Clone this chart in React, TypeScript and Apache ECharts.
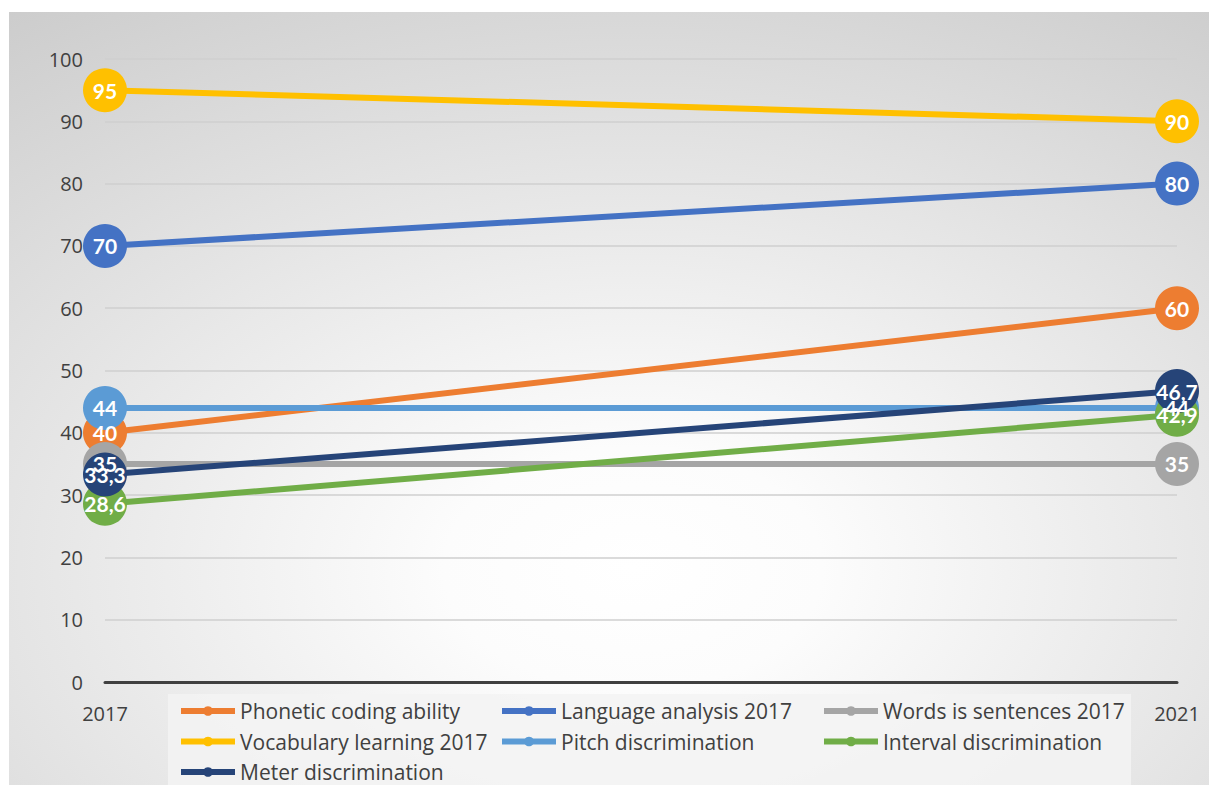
import React, { useEffect, useRef } from "react";
import * as echarts from "echarts";

const categories = ["2017", "2021"];
const seriesNames = [
  "Phonetic coding ability",
  "Language analysis 2017",
  "Words is sentences 2017",
  "Vocabulary learning 2017",
  "Pitch discrimination",
  "Interval discrimination",
  "Meter discrimination",
];
const phonetic = [40, 60];
const language = [70, 80];
const words = [35, 35];
const vocabulary = [95, 90];
const pitch = [44, 44];
const interval = [28.6, 42.9];
const meter = [33.3, 46.7];
const seriesValues = [phonetic, language, words, vocabulary, pitch, interval, meter];
const colors = ["#ED7D31", "#4472C4", "#A5A5A5", "#FFC000", "#5B9BD5", "#70AD47", "#264478"];
const yTicks = { min: 0, max: 100, interval: 10 };

const legendColumns = [
  [seriesNames[0], seriesNames[3], seriesNames[6]],
  [seriesNames[1], seriesNames[4]],
  [seriesNames[2], seriesNames[5]],
];

const FONT = "'Open Sans', Lato, sans-serif";
const LABEL_FONT = "Lato, 'Open Sans', sans-serif";

export default function App() {
  const ref = useRef<HTMLDivElement>(null);
  useEffect(() => {
    document.body.style.margin = "0";
    const chart = echarts.init(ref.current!, null, { renderer: "svg" });
    const legendLefts = [178, 499, 821];
    chart.setOption({
      animation: false,
      textStyle: { fontFamily: FONT },
      graphic: [
        {
          type: "rect",
          z: -100,
          silent: true,
          shape: { x: 9, y: 12, width: 1200, height: 773 },
          style: {
            fill: new echarts.graphic.RadialGradient(0.52, 0.72, 1.05, [
              { offset: 0, color: "#ffffff" },
              { offset: 0.15, color: "#fcfcfc" },
              { offset: 1, color: "#c2c2c2" },
            ]),
          },
        },
        {
          type: "rect",
          z: 3,
          silent: true,
          shape: { x: 168, y: 694, width: 963, height: 91 },
          style: { fill: "rgba(243,243,243,0.85)" },
        },
      ],
      grid: { left: 105, right: 32, top: 59, bottom: 103 },
      xAxis: {
        type: "category",
        data: categories,
        boundaryGap: false,
        axisLine: { lineStyle: { color: "#404040", width: 3 } },
        axisTick: { show: false },
        axisLabel: { fontSize: 20, color: "#404040", margin: 21, fontFamily: FONT },
      },
      yAxis: {
        type: "value",
        min: yTicks.min,
        max: yTicks.max,
        interval: yTicks.interval,
        axisLine: { show: false },
        axisTick: { show: false },
        axisLabel: { fontSize: 20, color: "#404040", margin: 22, fontFamily: FONT },
        splitLine: { lineStyle: { color: "#cfcfcf", width: 1.5 } },
      },
      legend: legendColumns.map((col, i) => ({
        orient: "vertical",
        left: legendLefts[i],
        top: 700,
        height: 85,
        padding: 0,
        data: col,
        itemWidth: 54,
        itemHeight: 12,
        itemGap: 8.5,
        lineStyle: { width: 6 },
        textStyle: { fontSize: 21, color: "#404040", lineHeight: 22, fontFamily: FONT },
      })),
      series: seriesNames.map((name, i) => ({
        name,
        type: "line",
        data: seriesValues[i],
        color: colors[i],
        symbol: "circle",
        symbolSize: 44,
        lineStyle: { width: 6, color: colors[i] },
        itemStyle: { color: colors[i] },
        label: {
          show: true,
          position: "inside",
          color: "#ffffff",
          fontWeight: "bold",
          fontSize: 21,
          fontFamily: LABEL_FONT,
          formatter: (p: any) => String(p.value).replace(".", ","),
        },
      })),
    });
    return () => chart.dispose();
  }, []);
  return <div ref={ref} style={{ width: 1209, height: 785 }} />;
}
